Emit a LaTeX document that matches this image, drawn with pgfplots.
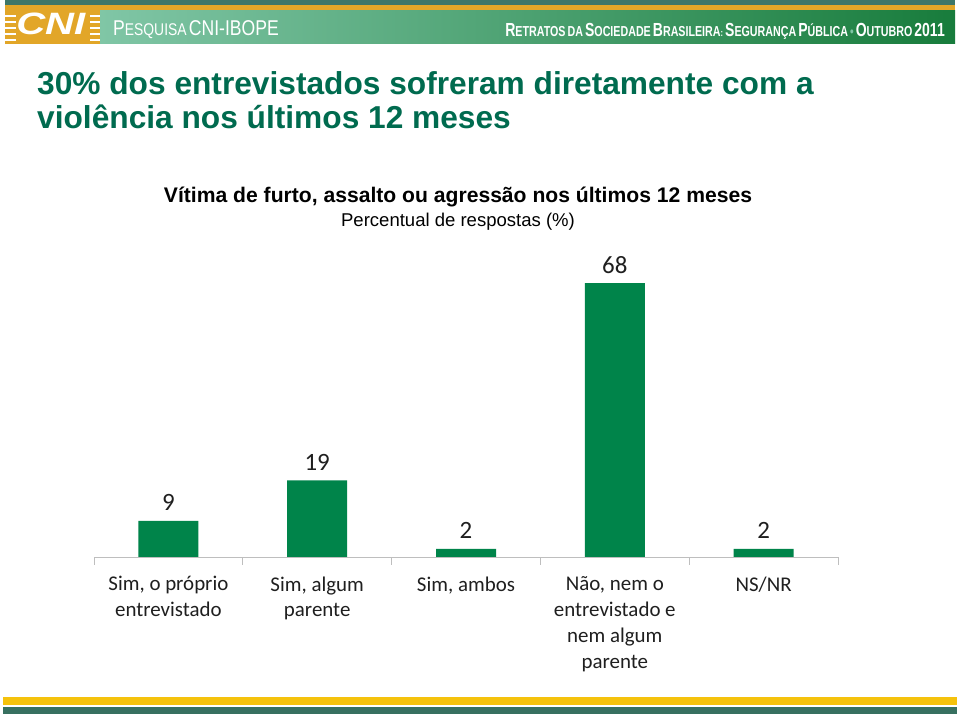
\documentclass[border=0pt]{standalone}
\usepackage{fontspec}
\setmainfont{Liberation Sans}
\newfontfamily\calib{Carlito}
\newfontfamily\narrowfont[FakeStretch=0.82]{Liberation Sans}
\newfontfamily\narrowbold[FakeStretch=0.74]{Liberation Sans Bold}
\usepackage{pgfplots}
\pgfplotsset{compat=1.18}
\definecolor{titlegreen}{RGB}{0,107,79}
\definecolor{bargreen}{RGB}{0,132,74}
\definecolor{hdrteal}{RGB}{61,118,104}
\definecolor{hdrgold}{RGB}{226,166,40}
\definecolor{hdrleft}{RGB}{128,198,166}
\definecolor{hdrright}{RGB}{24,124,60}
\definecolor{ftgold}{RGB}{245,194,12}
\definecolor{ftteal}{RGB}{55,112,96}
\definecolor{axgray}{RGB}{190,190,190}
\newcommand{\SC}[2]{{\fontsize{19}{19}\selectfont #1}{\fontsize{14.5}{14.5}\selectfont #2}}
\newcommand{\SCa}[2]{{\fontsize{21.5}{21}\selectfont #1}{\fontsize{17}{17}\selectfont #2}}
\begin{document}
\begin{tikzpicture}[x=1bp,y=1bp]
\fill[white] (0,0) rectangle (960,716);
% header
\fill[hdrteal] (5,711) rectangle (955,716);
\fill[hdrgold] (5,705) rectangle (955,711);
\shade[left color=hdrleft,right color=hdrright] (100,672) rectangle (955,705);
\fill[hdrgold] (5,672) rectangle (100,711);
\foreach \yy in {676,682,688,694,700} {
  \draw[white,line width=1.2bp] (5,\yy) -- (16,\yy);
  \draw[white,line width=1.2bp] (90,\yy) -- (100,\yy);
}
\node[anchor=base west,inner sep=0,text=white,xscale=1.3] at (16,681)
  {\fontsize{31}{31}\selectfont\bfseries\itshape CNI};
\node[anchor=base west,inner sep=0,text=white] at (113,680)
  {\narrowfont\SCa{P}{ESQUISA} {\fontsize{21.5}{21}\selectfont CNI-IBOPE}};
\node[anchor=base east,inner sep=0,text=white] at (945,679)
  {\narrowbold\SC{R}{ETRATOS} \SC{}{DA} \SC{S}{OCIEDADE} \SC{B}{RASILEIRA}:\ \SC{S}{EGURANÇA} \SC{P}{ÚBLICA} {\color{hdrleft}\fontsize{14}{14}\selectfont\textbullet} \SC{O}{UTUBRO} {\fontsize{19}{19}\selectfont 2011}};
% footer
\fill[ftgold] (3,11) rectangle (957,19);
\fill[ftteal] (3,2) rectangle (957,9);
% titles
\node[anchor=base west,inner sep=0,text=titlegreen,font=\fontsize{31.8}{34}\selectfont\bfseries] at (37,621)
  {30\% dos entrevistados sofreram diretamente com a};
\node[anchor=base west,inner sep=0,text=titlegreen,font=\fontsize{31.8}{34}\selectfont\bfseries] at (37,587)
  {violência nos últimos 12 meses};
\node[anchor=base,inner sep=0,font=\fontsize{21.2}{21}\selectfont\bfseries] at (458,513)
  {Vítima de furto, assalto ou agressão nos últimos 12 meses};
\node[anchor=base,inner sep=0,font=\fontsize{18.6}{18}\selectfont] at (458,489)
  {Percentual de respostas (\%)};
\begin{axis}[
  at={(94bp,159bp)}, anchor=south west,
  width=744bp, height=302bp, scale only axis,
  xmin=-0.5, xmax=4.5, ymin=0, ymax=75,
  axis y line=none, axis x line*=bottom,
  axis line style={axgray, line width=0.8bp},
  xtick={0,1,2,3,4},
  xticklabels={{Sim, o próprio\\entrevistado},{Sim, algum\\parente},{Sim, ambos},{Não, nem o\\entrevistado e\\nem algum\\parente},{NS/NR}},
  major tick length=0pt,
  minor xtick={-0.5,0.5,1.5,2.5,3.5,4.5},
  minor tick length=8bp,
  tick align=outside,
  minor tick style={axgray, line width=0.8bp},
  xticklabel style={align=center, font=\calib\fontsize{21}{26}\selectfont, text=black!88, yshift=-16bp},
  /pgf/number format/assume math mode=true,
  nodes near coords,
  every node near coord/.append style={anchor=base, yshift=10bp, inner sep=0pt, font=\calib\fontsize{25}{25}\selectfont, text=black!88},
  clip=false,
]
\addplot[ybar, bar width=60bp, fill=bargreen, draw=none] coordinates {(0,9) (1,19) (2,2) (3,68) (4,2)};
\end{axis}
\end{tikzpicture}
\end{document}
